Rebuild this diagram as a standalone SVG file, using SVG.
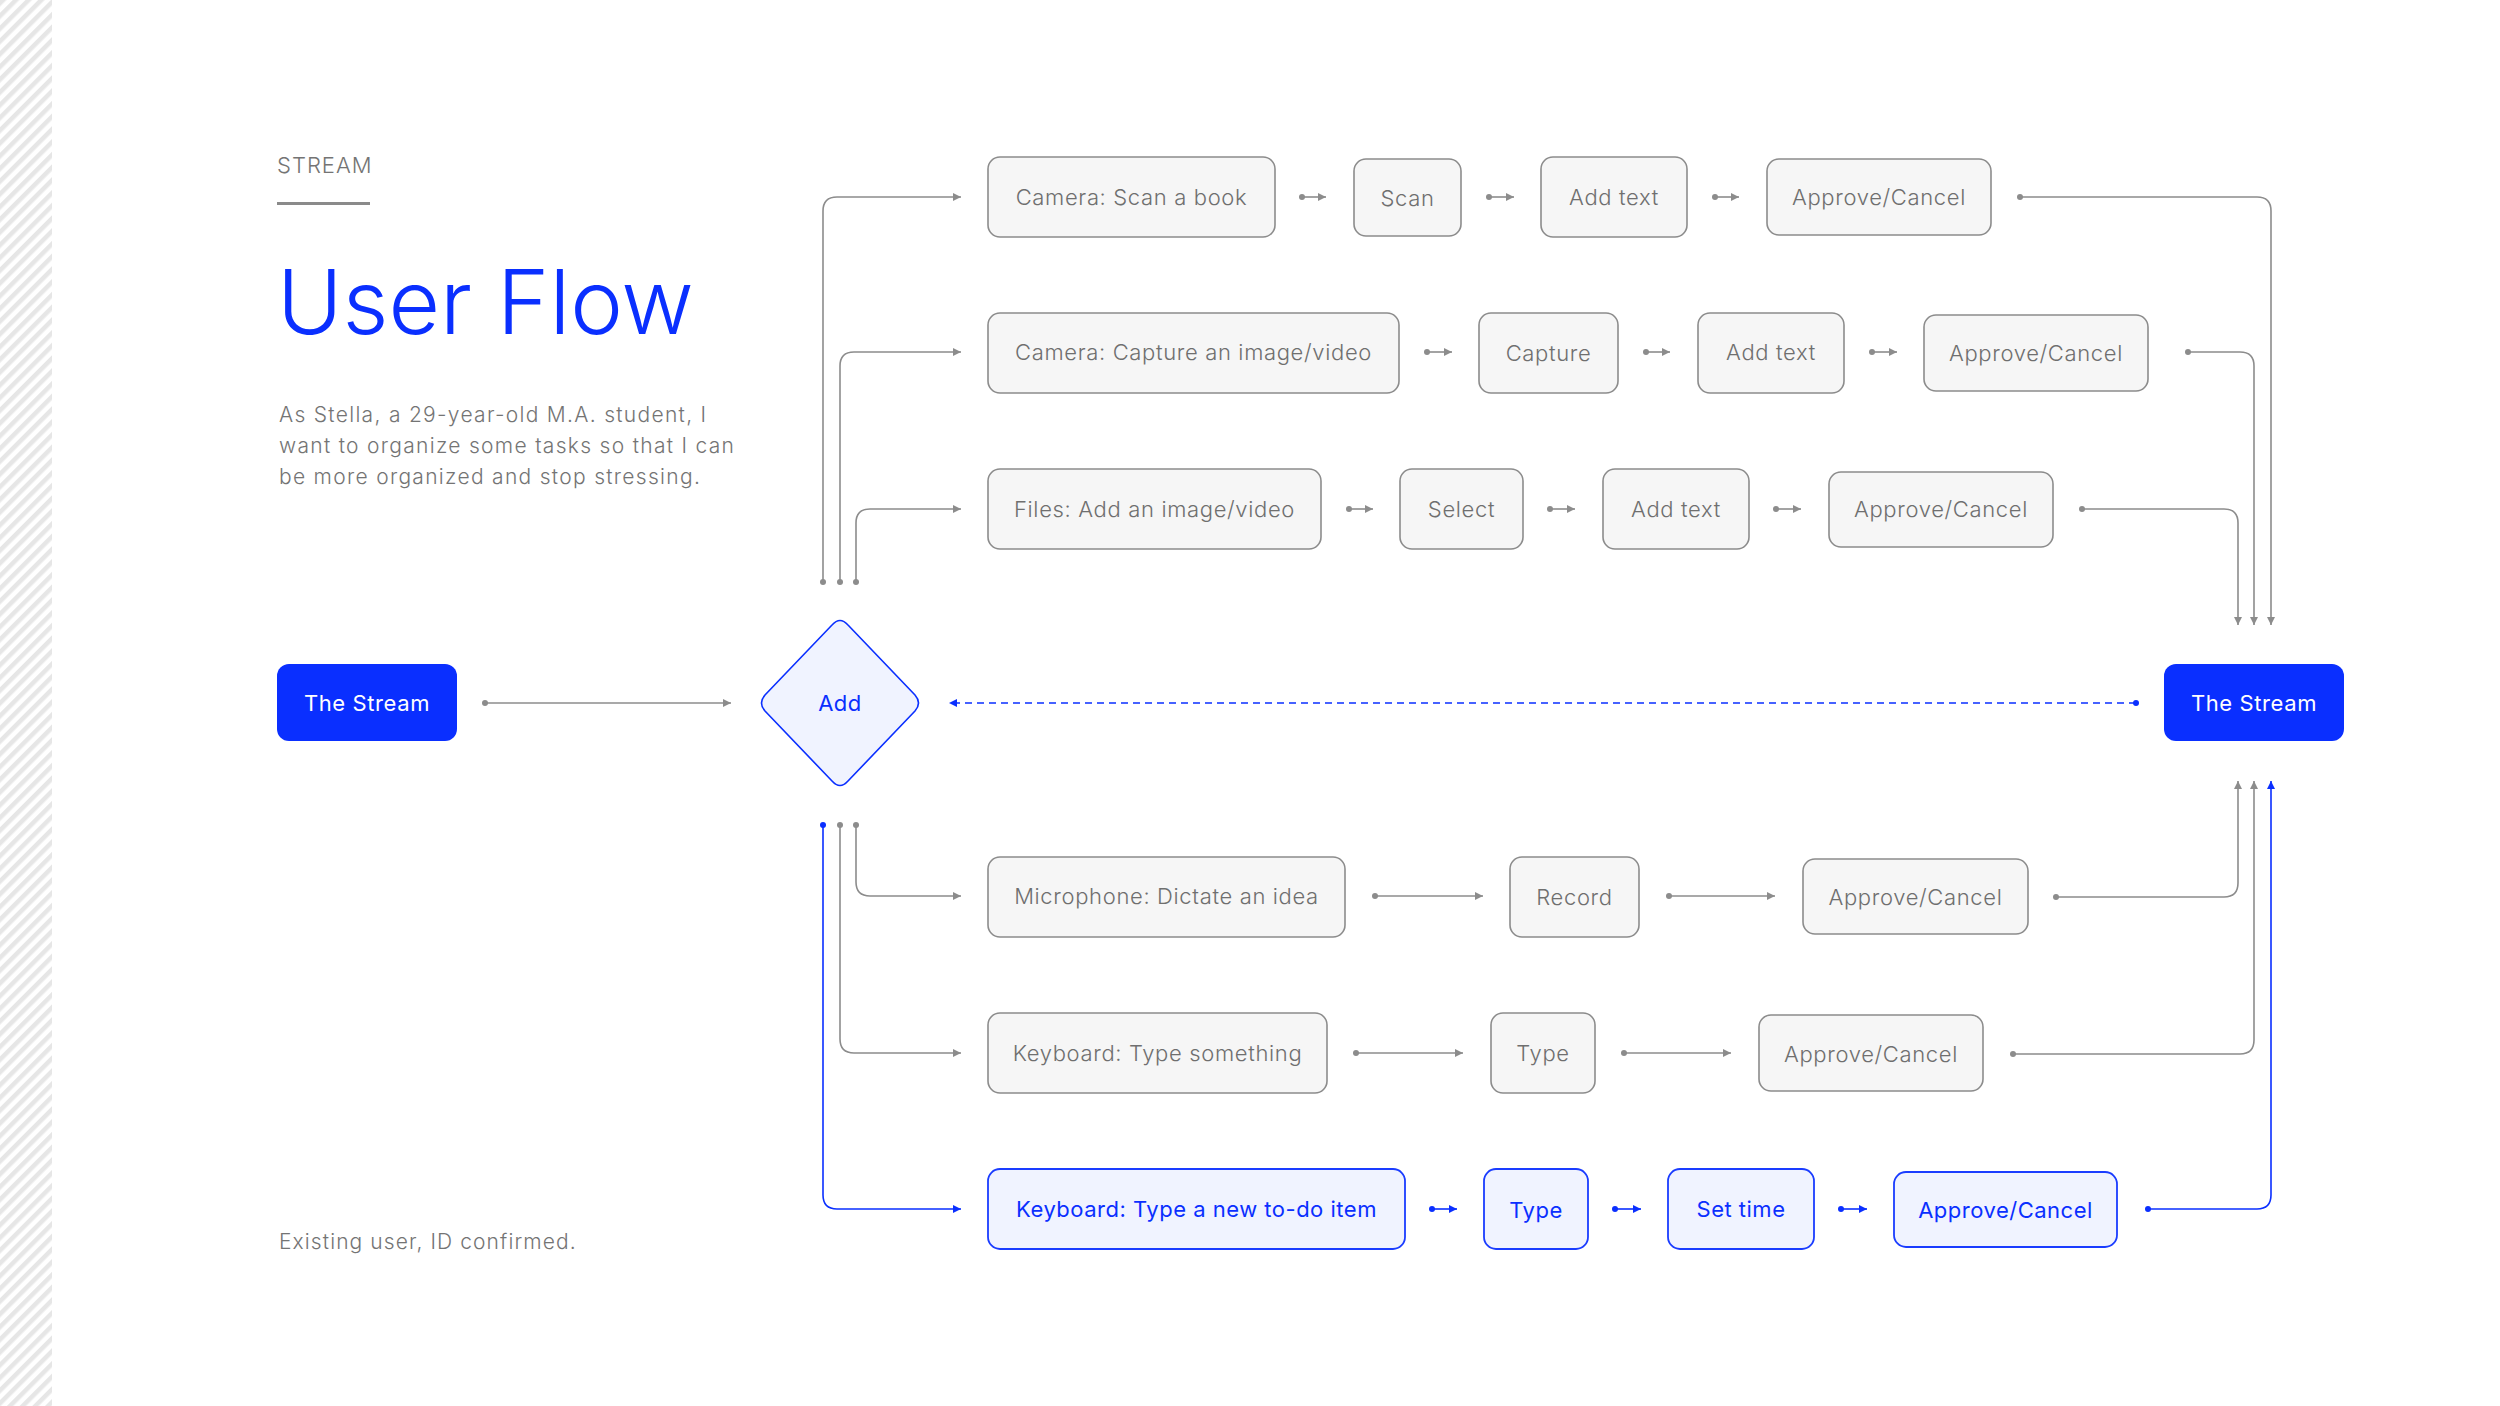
<svg xmlns="http://www.w3.org/2000/svg" width="2500" height="1406" viewBox="0 0 2500 1406">
<style>
.bg{fill:#ffffff}
.box rect{fill:#f6f6f6;stroke:#8c8c8c;stroke-width:1.6}
.box text{fill:#6f6f6f;font-family:Inter,"Liberation Sans",sans-serif;font-size:22px;font-weight:300;letter-spacing:0.65px;text-anchor:middle;dominant-baseline:central}
.bbox rect{fill:#f0f3ff;stroke:#1a3cff;stroke-width:1.8}
.bbox text{fill:#0a2fff;font-family:Inter,"Liberation Sans",sans-serif;font-size:22px;font-weight:400;letter-spacing:0.5px;text-anchor:middle;dominant-baseline:central}
.stream rect{fill:#0a2fff}
.stream text{fill:#ffffff;font-family:Inter,"Liberation Sans",sans-serif;font-size:22px;font-weight:400;letter-spacing:0.6px;text-anchor:middle;dominant-baseline:central}
.g{stroke:#8c8c8c;stroke-width:1.6;fill:none;marker-start:url(#dg);marker-end:url(#ag)}
.b{stroke:#0a2fff;stroke-width:1.6;fill:none;marker-start:url(#db);marker-end:url(#ab)}
.side{font-family:Inter,"Liberation Sans",sans-serif;fill:#747474;font-weight:300}
</style>
<defs>
<pattern id="stripes" patternUnits="userSpaceOnUse" width="9" height="9" patternTransform="rotate(45)">
<rect x="0" y="0" width="4.5" height="9" fill="#e6e6e6"/>
</pattern>
<marker id="ag" markerUnits="userSpaceOnUse" markerWidth="10" markerHeight="10" refX="8" refY="4" orient="auto"><path d="M0,0 L8,4 L0,8 z" fill="#8c8c8c"/></marker>
<marker id="ab" markerUnits="userSpaceOnUse" markerWidth="10" markerHeight="10" refX="8" refY="4" orient="auto"><path d="M0,0 L8,4 L0,8 z" fill="#0a2fff"/></marker>
<marker id="dg" markerUnits="userSpaceOnUse" markerWidth="8" markerHeight="8" refX="4" refY="4" orient="auto"><circle cx="4" cy="4" r="3" fill="#8c8c8c"/></marker>
<marker id="db" markerUnits="userSpaceOnUse" markerWidth="8" markerHeight="8" refX="4" refY="4" orient="auto"><circle cx="4" cy="4" r="3" fill="#0a2fff"/></marker>
</defs>
<rect class="bg" x="0" y="0" width="2500" height="1406"/>
<rect x="0" y="0" width="52" height="1406" fill="url(#stripes)"/>

<g id="header">
<text class="side" x="277" y="173" font-size="22" letter-spacing="1">STREAM</text>
<rect x="277" y="202" width="93" height="3" fill="#8a8a8a"/>
<text x="277" y="334" font-family="Inter,'Liberation Sans',sans-serif" font-size="89" font-weight="300" fill="#0a2fff">User Flow</text>
<text class="side" font-size="21" letter-spacing="1.3"><tspan x="279" y="422">As Stella, a 29-year-old M.A. student, I</tspan><tspan x="279" y="453">want to organize some tasks so that I can</tspan><tspan x="279" y="484">be more organized and stop stressing.</tspan></text>
<text class="side" x="279" y="1249" font-size="21" letter-spacing="1.1">Existing user, ID confirmed.</text>
</g>

<g id="connectors">
<path class="g" d="M485,703 H731"/>
<path d="M2136,703 H949" fill="none" stroke="#0a2fff" stroke-width="1.6" stroke-dasharray="7 5" marker-start="url(#db)" marker-end="url(#ab)"/>
<path class="g" d="M823,582 V211 Q823,197 837,197 H961"/>
<path class="g" d="M840,582 V366 Q840,352 854,352 H961"/>
<path class="g" d="M856,582 V523 Q856,509 870,509 H961"/>
<path class="g" d="M856,825 V882 Q856,896 870,896 H961"/>
<path class="g" d="M840,825 V1039 Q840,1053 854,1053 H961"/>
<path class="b" d="M823,825 V1195 Q823,1209 837,1209 H961"/>
<path class="g" d="M2020,197 H2257 Q2271,197 2271,211 V625"/>
<path class="g" d="M2188,352 H2240 Q2254,352 2254,366 V625"/>
<path class="g" d="M2082,509 H2224 Q2238,509 2238,523 V625"/>
<path class="g" d="M2056,897 H2224 Q2238,897 2238,883 V781"/>
<path class="g" d="M2013,1054 H2240 Q2254,1054 2254,1040 V781"/>
<path class="b" d="M2148,1209 H2257 Q2271,1209 2271,1195 V781"/>
<path class="g" d="M1302,197 H1326"/>
<path class="g" d="M1489,197 H1514"/>
<path class="g" d="M1715,197 H1739"/>
<path class="g" d="M1427,352 H1452"/>
<path class="g" d="M1646,352 H1670"/>
<path class="g" d="M1872,352 H1897"/>
<path class="g" d="M1349,509 H1373"/>
<path class="g" d="M1550,509 H1575"/>
<path class="g" d="M1776,509 H1801"/>
<path class="g" d="M1375,896 H1483"/>
<path class="g" d="M1669,896 H1775"/>
<path class="g" d="M1356,1053 H1463"/>
<path class="g" d="M1624,1053 H1731"/>
<path class="b" d="M1432,1209 H1457"/>
<path class="b" d="M1615,1209 H1641"/>
<path class="b" d="M1841,1209 H1867"/>
</g>

<g id="stream-left" class="stream"><rect x="277" y="664" width="180" height="77" rx="12"/><text x="367" y="703">The Stream</text></g>
<g id="stream-right" class="stream"><rect x="2164" y="664" width="180" height="77" rx="12"/><text x="2254" y="703">The Stream</text></g>
<g id="add"><path d="M832,625 Q840,616 848,625 L915,695 Q922,703 915,711 L848,781 Q840,790 832,781 L765,711 Q758,703 765,695 Z" fill="#f0f3ff" stroke="#0a2fff" stroke-width="1.6"/><text x="840" y="703" font-family="Inter,'Liberation Sans',sans-serif" font-size="22" letter-spacing="0.5" fill="#0a2fff" text-anchor="middle" dominant-baseline="central">Add</text></g>

<g id="r1a" class="box"><rect x="988" y="157" width="287" height="80" rx="12"/><text x="1131.5" y="197">Camera: Scan a book</text></g>
<g id="r1b" class="box"><rect x="1354" y="159" width="107" height="77" rx="12"/><text x="1407.5" y="198">Scan</text></g>
<g id="r1c" class="box"><rect x="1541" y="157" width="146" height="80" rx="12"/><text x="1614" y="197">Add text</text></g>
<g id="r1d" class="box"><rect x="1767" y="159" width="224" height="76" rx="12"/><text x="1879" y="197">Approve/Cancel</text></g>

<g id="r2a" class="box"><rect x="988" y="313" width="411" height="80" rx="12"/><text x="1193.5" y="352">Camera: Capture an image/video</text></g>
<g id="r2b" class="box"><rect x="1479" y="313" width="139" height="80" rx="12"/><text x="1548.5" y="353">Capture</text></g>
<g id="r2c" class="box"><rect x="1698" y="313" width="146" height="80" rx="12"/><text x="1771" y="352">Add text</text></g>
<g id="r2d" class="box"><rect x="1924" y="315" width="224" height="76" rx="12"/><text x="2036" y="353">Approve/Cancel</text></g>

<g id="r3a" class="box"><rect x="988" y="469" width="333" height="80" rx="12"/><text x="1154.5" y="509">Files: Add an image/video</text></g>
<g id="r3b" class="box"><rect x="1400" y="469" width="123" height="80" rx="12"/><text x="1461.5" y="509">Select</text></g>
<g id="r3c" class="box"><rect x="1603" y="469" width="146" height="80" rx="12"/><text x="1676" y="509">Add text</text></g>
<g id="r3d" class="box"><rect x="1829" y="472" width="224" height="75" rx="12"/><text x="1941" y="509">Approve/Cancel</text></g>

<g id="r4a" class="box"><rect x="988" y="857" width="357" height="80" rx="12"/><text x="1166.5" y="896">Microphone: Dictate an idea</text></g>
<g id="r4b" class="box"><rect x="1510" y="857" width="129" height="80" rx="12"/><text x="1574.5" y="897">Record</text></g>
<g id="r4c" class="box"><rect x="1803" y="859" width="225" height="75" rx="12"/><text x="1915.5" y="897">Approve/Cancel</text></g>

<g id="r5a" class="box"><rect x="988" y="1013" width="339" height="80" rx="12"/><text x="1157.5" y="1053">Keyboard: Type something</text></g>
<g id="r5b" class="box"><rect x="1491" y="1013" width="104" height="80" rx="12"/><text x="1543" y="1053">Type</text></g>
<g id="r5c" class="box"><rect x="1759" y="1015" width="224" height="76" rx="12"/><text x="1871" y="1054">Approve/Cancel</text></g>

<g id="r6a" class="bbox"><rect x="988" y="1169" width="417" height="80" rx="12"/><text x="1196.5" y="1209">Keyboard: Type a new to-do item</text></g>
<g id="r6b" class="bbox"><rect x="1484" y="1169" width="104" height="80" rx="12"/><text x="1536" y="1210">Type</text></g>
<g id="r6c" class="bbox"><rect x="1668" y="1169" width="146" height="80" rx="12"/><text x="1741" y="1209">Set time</text></g>
<g id="r6d" class="bbox"><rect x="1894" y="1172" width="223" height="75" rx="12"/><text x="2005.5" y="1210">Approve/Cancel</text></g>
</svg>
